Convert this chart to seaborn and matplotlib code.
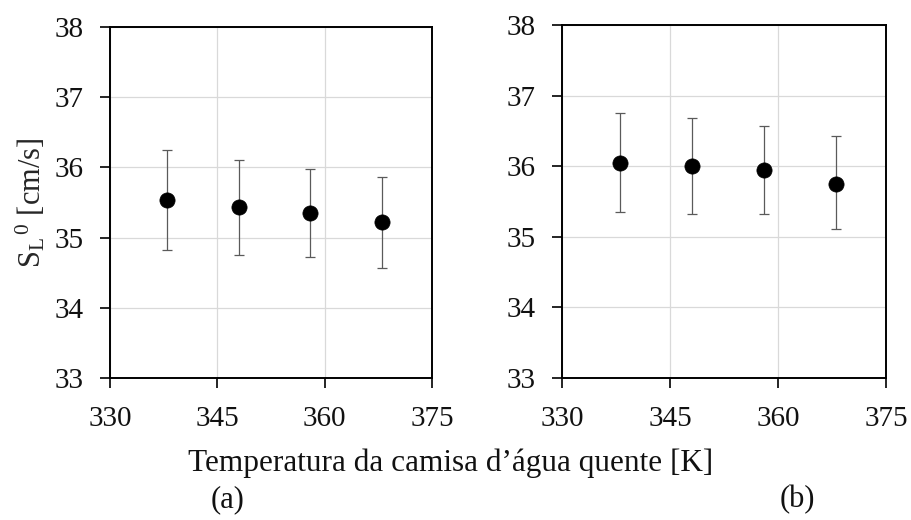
import numpy as np
import pandas as pd
import matplotlib
matplotlib.use("Agg")
import matplotlib.pyplot as plt
import seaborn as sns

# Data
temps = [338, 348, 358, 368]
sl_a = [35.53, 35.44, 35.35, 35.22]
err_hi_a = [36.25, 36.10, 35.98, 35.87]
err_lo_a = [34.83, 34.75, 34.72, 34.57]
sl_b = [36.05, 36.00, 35.94, 35.75]
err_hi_b = [36.75, 36.68, 36.57, 36.43]
err_lo_b = [35.35, 35.33, 35.33, 35.11]
xticks = [330, 345, 360, 375]
yticks = [33, 34, 35, 36, 37, 38]
panel_labels = ["(a)", "(b)"]

sns.set_theme(style="whitegrid")
plt.rcParams['font.family'] = ['Liberation Serif', 'DejaVu Serif']
plt.rcParams['mathtext.fontset'] = 'custom'
plt.rcParams['mathtext.rm'] = 'Liberation Serif'
plt.rcParams['mathtext.it'] = 'Liberation Serif:italic'

fig = plt.figure(figsize=(9.12, 5.2), dpi=100)
ax1 = fig.add_axes([110/912, 1-378/520, 322/912, 351/520])
ax2 = fig.add_axes([562/912, 1-378/520, 324/912, 353/520])

for ax, sl, hi, lo in [(ax1, sl_a, err_hi_a, err_lo_a), (ax2, sl_b, err_hi_b, err_lo_b)]:
    df = pd.DataFrame({"T": temps, "S": sl})
    yerr = np.array([np.array(sl) - np.array(lo), np.array(hi) - np.array(sl)])
    ax.errorbar(temps, sl, yerr=yerr, fmt='none', ecolor='#5a5a5a', elinewidth=0.9,
                capsize=3.5, capthick=0.9, zorder=2)
    sns.scatterplot(data=df, x="T", y="S", ax=ax, color='black', s=120,
                    edgecolor='black', linewidth=0.5, zorder=3)
    ax.set_xlim(330, 375)
    ax.set_ylim(33, 38)
    ax.set_xticks(xticks)
    ax.set_yticks(yticks)
    ax.set_xlabel("")
    ax.set_ylabel("")
    ax.grid(True, color='#d9d9d9', linewidth=0.9)
    ax.set_facecolor('white')
    for sp in ax.spines.values():
        sp.set_color('black')
        sp.set_linewidth(1.4)
        sp.set_visible(True)
    ax.tick_params(axis='both', which='major', direction='out', length=7, width=1.2,
                   color='black', labelsize=21, labelcolor='#111111', bottom=True, left=True)
    ax.tick_params(axis='x', pad=13)
    ax.tick_params(axis='y', pad=12)

ax1.set_ylabel(r"$\mathrm{S_L}^{\,0}$ [cm/s]", fontsize=22, labelpad=5)

fig.text(451/912, 1-463/520, "Temperatura da camisa d\u2019água quente [K]", ha='center', va='center',
         fontsize=22.5, color='#111111')
fig.text(228/912, 1-500/520, panel_labels[0], ha='center', va='center', fontsize=22, color='#111111')
fig.text(797/912, 1-500/520, panel_labels[1], ha='center', va='center', fontsize=22, color='#111111')

fig.savefig("out.png", dpi=100, facecolor='white')
